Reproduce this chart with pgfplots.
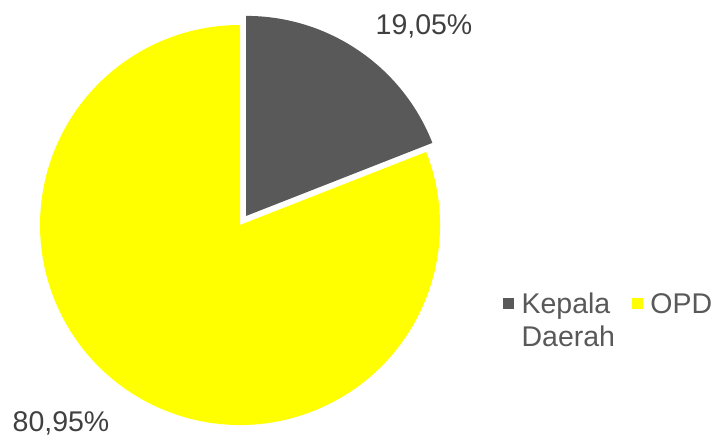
\documentclass[border=0pt]{standalone}
\usepackage{pgfplots}
\pgfplotsset{compat=1.18}
\usepackage{fontspec}
\setmainfont{Liberation Sans}
\definecolor{cgray}{HTML}{595959}
\definecolor{cyel}{HTML}{FFFF00}
\definecolor{ctxt}{HTML}{404040}
\begin{document}
\begin{tikzpicture}[x=1bp,y=1bp]
\useasboundingbox (0,0) rectangle (714,437);
\coordinate (pc) at (240,212);
% data
\pgfmathsetmacro{\va}{19.05}
\pgfmathsetmacro{\vb}{80.95}
\pgfmathsetmacro{\aa}{90-3.6*\va}
\pgfmathsetmacro{\md}{90-1.8*\va}
\pgfmathsetmacro{\ox}{0.055*cos(\md)}
\pgfmathsetmacro{\oy}{0.055*sin(\md)}
\begin{axis}[at={(pc)}, anchor=center, width=400bp, height=400bp,
  scale only axis, xmin=-1, xmax=1, ymin=-1, ymax=1, hide axis, clip=false,
  legend columns=2,
  legend image code/.code={\fill[#1] (0bp,5.5bp) rectangle (10bp,15.5bp);},
  legend style={at={(1.1575,0.3375)}, anchor=north west, draw=none, fill=none,
    inner sep=0pt, font=\fontsize{28.5bp}{33bp}\selectfont, text=cgray,
    cells={anchor=base west},
    nodes={inner sep=0pt},
    /tikz/every odd column/.append style={column sep=8bp},
    /tikz/every even column/.append style={column sep=17bp}}]
\addlegendimage{cgray}
\addlegendentry{\begin{tabular}[t]{@{}l@{}}Kepala\\Daerah\end{tabular}}
\addlegendimage{cyel}
\addlegendentry{\begin{tabular}[t]{@{}l@{}}OPD\end{tabular}}
\fill[cyel] (axis cs:0,0) -- (axis cs:{cos(\aa)},{sin(\aa)})
  arc[start angle=\aa, end angle=-270, radius=200bp] -- cycle;
\fill[cgray] (axis cs:\ox,\oy) -- (axis cs:\ox,{\oy+1})
  arc[start angle=90, end angle=\aa, radius=200bp] -- cycle;
\end{axis}
\node[anchor=base, text=ctxt, font=\fontsize{28.5bp}{33bp}\selectfont] at (424,402) {19,05\%};
\node[anchor=base, text=ctxt, font=\fontsize{28.5bp}{33bp}\selectfont] at (61,5) {80,95\%};
\end{tikzpicture}
\end{document}
